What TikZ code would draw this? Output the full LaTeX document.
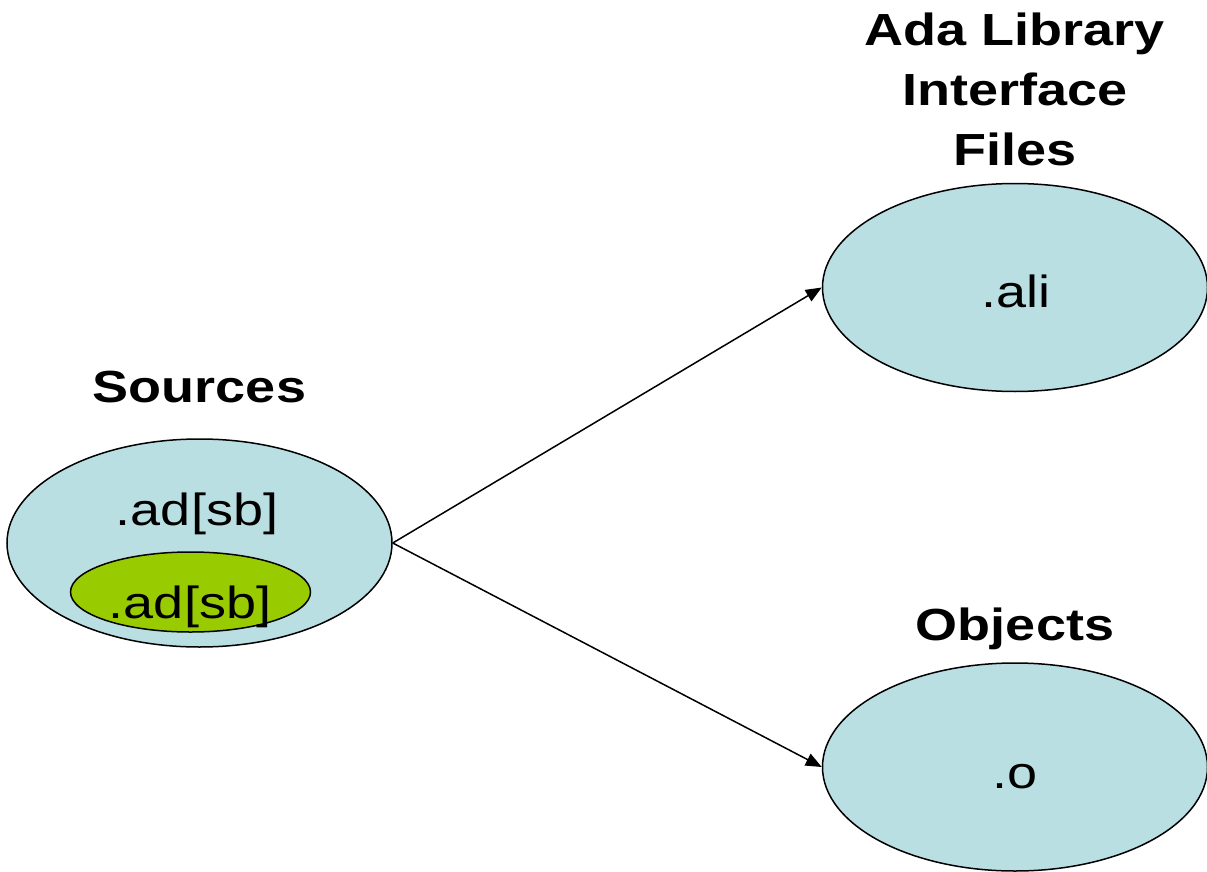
\documentclass[tikz,border=0pt]{standalone}
\usepackage{fontspec}
\setmainfont{Liberation Sans}[FakeStretch=1.2]
\usetikzlibrary{shapes.geometric,arrows.meta}
\definecolor{paleblue}{HTML}{BADFE3}
\definecolor{leafgreen}{HTML}{99CC00}
\begin{document}
\begin{tikzpicture}[x=1pt,y=-1pt,
  blob/.style={ellipse, draw=black, line width=1.5pt, fill=paleblue,
    minimum width=385pt, minimum height=208pt, inner sep=0pt},
  subblob/.style={ellipse, draw=black, line width=1.5pt, fill=leafgreen,
    minimum width=240pt, minimum height=80pt, inner sep=0pt},
  lbl/.style={anchor=base, inner sep=0pt, font=\fontsize{45}{60}\selectfont},
  heading/.style={lbl, align=center, font=\fontsize{45}{60}\selectfont\bfseries},
  flow/.style={-{Triangle[length=16pt,width=13pt]}, line width=1.5pt}]
\useasboundingbox (0,0) rectangle (1207,872);

% file-type ellipses
\node[blob] (src) at (199.5,543) {};
\node[subblob] (sub) at (190.5,592) {};
\node[blob] (ali) at (1015,287.5) {};
\node[blob] (obj) at (1015,767) {};

% headings (base anchor sits on the last line)
\node[heading] (srcT) at (199.5,402) {Sources};
\node[heading] (aliT) at (1015,165) {Ada Library\\Interface\\Files};
\node[heading] (objT) at (1015,640) {Objects};

% extensions
\node[lbl] (srcX) at (197,525) {.ad[sb]};
\node[lbl] (subX) at (190,618) {.ad[sb]};
\node[lbl] (aliX) at (1016,307) {.ali};
\node[lbl] (objX) at (1015,788) {.o};

% compilation outputs
\draw[flow] (src.east) -- (ali.west);
\draw[flow] (src.east) -- (obj.west);
\end{tikzpicture}
\end{document}
